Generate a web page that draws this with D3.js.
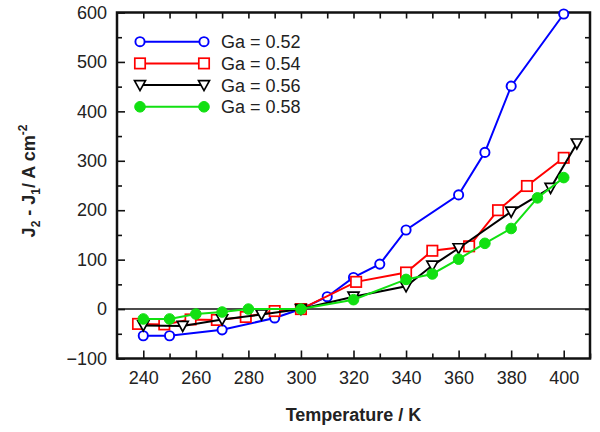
<!DOCTYPE html>
<html>
<head>
<meta charset="utf-8">
<script src="https://cdn.jsdelivr.net/npm/d3@7"></script>
<style>
  body { margin: 0; background: #fff; }
  text { font-family: "Liberation Sans", Arial, sans-serif; }
</style>
</head>
<body>
<div id="chart"></div>
<script>
// series
var seriesNames = ["Ga = 0.52", "Ga = 0.54", "Ga = 0.56", "Ga = 0.58"];
var tempBlue = [240, 250, 270, 290, 300, 310, 320, 330, 340, 360, 370, 380, 400];
var valBlue = [-54, -54, -42, -18, 0, 25, 64, 91, 160, 231, 317, 451, 597];
var tempRed = [238, 248, 258, 268, 279, 290, 300, 321, 340, 350, 364, 375, 386, 400];
var valRed = [-30, -31, -21, -22, -16, -4, 0, 55, 74, 118, 127, 200, 249, 306];
var tempBlack = [240, 255, 270, 285, 300, 320, 340, 350, 360, 380, 395, 405];
var valBlack = [-33, -34, -21, -11, 0, 25, 46, 88, 123, 197, 245, 335];
var tempGreen = [240, 250, 260, 270, 280, 300, 320, 340, 350, 360, 370, 380, 390, 400];
var valGreen = [-20, -20, -10, -6, 0, 0, 19, 60, 71, 101, 133, 163, 225, 266];
var xTicks = [240, 260, 280, 300, 320, 340, 360, 380, 400];
var yTicks = [-100, 0, 100, 200, 300, 400, 500, 600];

var W = 600, H = 432;
var plotLeft = 117, plotRight = 590, plotTop = 12.5, plotBottom = 358.5;

var x = d3.scaleLinear().domain([230, 410]).range([plotLeft, plotRight]);
var y = d3.scaleLinear().domain([-100, 600]).range([plotBottom, plotTop]);

var svg = d3.select("#chart").append("svg")
    .attr("width", W)
    .attr("height", H);

var xMinor = d3.range(230, 411, 10).filter(function(d) { return xTicks.indexOf(d) < 0; });
var yMinor = d3.range(-100, 601, 50).filter(function(d) { return yTicks.indexOf(d) < 0; });

function styleAxis(g) {
    g.select(".domain").remove();
    g.selectAll("line").attr("stroke", "#111").attr("stroke-width", 1.6);
    g.selectAll("text").style("font-size", "18px").attr("fill", "#222");
}

// bottom
svg.append("g")
    .attr("transform", "translate(0," + plotBottom + ")")
    .call(d3.axisBottom(x).tickValues(xTicks).tickSizeInner(-8).tickSizeOuter(0).tickPadding(13))
    .call(styleAxis);
svg.append("g")
    .attr("transform", "translate(0," + plotBottom + ")")
    .call(d3.axisBottom(x).tickValues(xMinor).tickSizeInner(-5).tickSizeOuter(0).tickFormat(""))
    .call(styleAxis);
// top
svg.append("g")
    .attr("transform", "translate(0," + plotTop + ")")
    .call(d3.axisTop(x).tickValues(d3.range(240, 410, 10)).tickSizeInner(-6).tickSizeOuter(0).tickFormat(""))
    .call(styleAxis);
// left
svg.append("g")
    .attr("transform", "translate(" + plotLeft + ",0)")
    .call(d3.axisLeft(y).tickValues(yTicks).tickSizeInner(-8).tickSizeOuter(0).tickPadding(10))
    .call(styleAxis);
svg.append("g")
    .attr("transform", "translate(" + plotLeft + ",0)")
    .call(d3.axisLeft(y).tickValues(yMinor).tickSizeInner(-5).tickSizeOuter(0).tickFormat(""))
    .call(styleAxis);
// right
svg.append("g")
    .attr("transform", "translate(" + plotRight + ",0)")
    .call(d3.axisRight(y).tickValues(d3.range(-50, 600, 50)).tickSizeInner(-5).tickSizeOuter(0).tickFormat(""))
    .call(styleAxis);

// frame
svg.append("rect")
    .attr("x", plotLeft).attr("y", plotTop)
    .attr("width", plotRight - plotLeft).attr("height", plotBottom - plotTop)
    .attr("fill", "none").attr("stroke", "#111").attr("stroke-width", 2.5);

// zero line
svg.append("line")
    .attr("x1", plotLeft).attr("x2", plotRight)
    .attr("y1", y(0)).attr("y2", y(0))
    .attr("stroke", "#111").attr("stroke-width", 1.6);

var series = [
    {name: seriesNames[0], t: tempBlue, v: valBlue, color: "#0000ff", shape: "circle"},
    {name: seriesNames[1], t: tempRed, v: valRed, color: "#ff0000", shape: "square"},
    {name: seriesNames[2], t: tempBlack, v: valBlack, color: "#000000", shape: "tri"},
    {name: seriesNames[3], t: tempGreen, v: valGreen, color: "#11e011", shape: "dot"}
];

function drawMarker(g, shape, color, cx, cy) {
    if (shape == "circle") {
        g.append("circle").attr("cx", cx).attr("cy", cy).attr("r", 4.6)
            .attr("fill", "#fff").attr("stroke", color).attr("stroke-width", 1.9);
    } else if (shape == "square") {
        g.append("rect").attr("x", cx - 5.2).attr("y", cy - 5.2).attr("width", 10.4).attr("height", 10.4)
            .attr("fill", "#fff").attr("stroke", color).attr("stroke-width", 1.7);
    } else if (shape == "tri") {
        g.append("path")
            .attr("d", "M" + (cx - 5.5) + "," + (cy - 4.5) + "L" + (cx + 5.5) + "," + (cy - 4.5) + "L" + cx + "," + (cy + 5.5) + "Z")
            .attr("fill", "#fff").attr("stroke", color).attr("stroke-width", 1.7);
    } else {
        g.append("circle").attr("cx", cx).attr("cy", cy).attr("r", 5.3)
            .attr("fill", color).attr("stroke", color).attr("stroke-width", 1);
    }
}

var line = d3.line()
    .x(function(d) { return x(d[0]); })
    .y(function(d) { return y(d[1]); });

series.forEach(function(s) {
    var pts = s.t.map(function(t, i) { return [t, s.v[i]]; });
    var g = svg.append("g");
    g.append("path")
        .datum(pts)
        .attr("d", line)
        .attr("fill", "none")
        .attr("stroke", s.color)
        .attr("stroke-width", 2);
    pts.forEach(function(p) {
        drawMarker(g, s.shape, s.color, x(p[0]), y(p[1]));
    });
});

// legend
var legend = svg.append("g");
series.forEach(function(s, i) {
    var ly = 41.7 + i * 21.7;
    legend.append("line")
        .attr("x1", 140).attr("x2", 204)
        .attr("y1", ly).attr("y2", ly)
        .attr("stroke", s.color).attr("stroke-width", 2);
    drawMarker(legend, s.shape, s.color, 140, ly);
    drawMarker(legend, s.shape, s.color, 204, ly);
    legend.append("text")
        .attr("x", 221).attr("y", ly)
        .attr("dy", "0.36em")
        .style("font-size", "18px")
        .attr("fill", "#222")
        .text(s.name);
});

// axis titles
svg.append("text")
    .attr("x", (plotLeft + plotRight) / 2)
    .attr("y", 421)
    .attr("text-anchor", "middle")
    .style("font-size", "18px")
    .style("font-weight", "bold")
    .attr("fill", "#222")
    .text("Temperature / K");

var yt = svg.append("text")
    .attr("transform", "translate(35,181) rotate(-90)")
    .attr("text-anchor", "middle")
    .style("font-size", "18px")
    .style("font-weight", "bold")
    .attr("fill", "#222");
yt.append("tspan").text("J");
yt.append("tspan").attr("dy", 5).style("font-size", "12px").text("2");
yt.append("tspan").attr("dy", -5).text(" - J");
yt.append("tspan").attr("dy", 5).style("font-size", "12px").text("1");
yt.append("tspan").attr("dy", -5).text("/ A cm");
yt.append("tspan").attr("dy", -8).style("font-size", "12px").text("-2");
</script>
</body>
</html>
